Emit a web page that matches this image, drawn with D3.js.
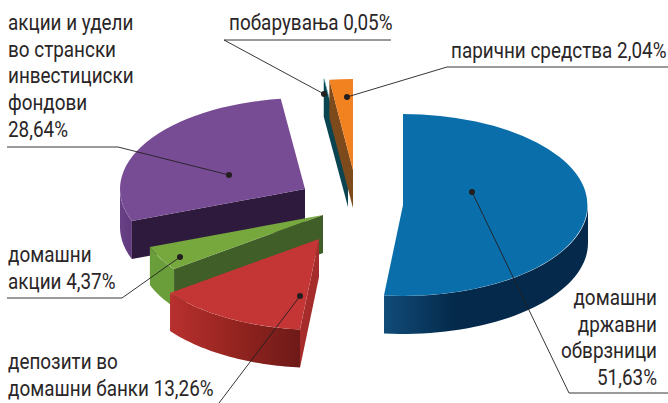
<!DOCTYPE html>
<html>
<head>
<meta charset="utf-8">
<script src="https://cdn.jsdelivr.net/npm/d3@7"></script>
<style>
  html, body { margin: 0; background: #fff; }
  text { font-family: Roboto, "Noto Sans", sans-serif; font-size: 22.5px; fill: #2a2627; }
</style>
</head>
<body>
<svg id="chart" width="668" height="403"></svg>
<script>
"use strict";

// данные, по часовой стрелке от верха
var aCategories = ["домашни државни обврзници", "депозити во домашни банки", "домашни акции",
    "акции и удели во странски инвестициски фондови", "побарувања", "парични средства"];
var aValues = [51.63, 13.26, 4.37, 28.64, 0.05, 2.04];

var aLabels = [
    ["домашни", "државни", "обврзници", "51,63%"],
    ["депозити во", "домашни банки 13,26%"],
    ["домашни", "акции 4,37%"],
    ["акции и удели", "во странски", "инвестициски", "фондови", "28,64%"],
    ["побарувања 0,05%"],
    ["парични средства 2,04%"]
];

// оформление
var aTopColors = ["#0a6eab", "#c43535", "#76a83e", "#784c94", "#127f8e", "#f28120"];
var aSideColors = ["#0a6eab", "#a52c2a", "#3f5e28", "#2d1a3c", "#0a4451", "#7d4a1c"];
var aWallStops = [
    [[0, "#114c79"], [0.35, "#04294a"], [1, "#04294a"]],
    [[0, "#b8302f"], [0.5, "#94241f"], [1, "#6e1a18"]],
    [[0, "#6a9e3a"], [1, "#6a9e3a"]],
    [[0, "#6a4187"], [1, "#5f3a7c"]],
    [[0, "#0a4451"], [1, "#0a4451"]],
    [[0, "#7d4a1c"], [1, "#7d4a1c"]]
];
var aApex = [[403, 205], [319, 239], [323, 215], [305, 189], [348, 169], [353, 170]];
var aDrawOrder = [3, 2, 1, 4, 5, 0];
var iRx = 185, iRy = 91, iDepth = 38;
var fTextScale = 0.84;

var aLabelPos = [
    { x: 657, y: 305, anchor: "end" },
    { x: 8, y: 369, anchor: "start" },
    { x: 8, y: 262, anchor: "start" },
    { x: 8, y: 30, anchor: "start" },
    { x: 229, y: 30, anchor: "start" },
    { x: 451, y: 58, anchor: "start" }
];
var iLineStep = 26.7;
var aLeaders = [
    [[472, 192], [569, 393], [668, 393]],
    [[300, 296], [219, 403]],
    [[180, 257], [122, 298], [7, 298]],
    [[229, 175], [118, 147], [7, 147]],
    [[324, 94], [224, 40], [391, 40]],
    [[347, 97], [447, 67], [668, 67]]
];

var svg = d3.select("#chart");
var defs = svg.append("defs");

var aPie = d3.pie().sort(null).value(e => e)(aValues);

// проекция окружности на наклонную плоскость
var xScale = d3.scaleLinear().domain([-1, 1]).range([-iRx, iRx]);
var yScale = d3.scaleLinear().domain([-1, 1]).range([-iRy, iRy]);
var project = a => [xScale(Math.sin(a)), yScale(-Math.cos(a))];

var arc = d3.arc().innerRadius(0).outerRadius(1);
var line = d3.line();

aValues.forEach(function(v, i) {
    var grad = defs.append("linearGradient").attr("id", "wall" + i);
    aWallStops[i].forEach(function(s) {
        grad.append("stop").attr("offset", s[0]).attr("stop-color", s[1]);
    });
});

aDrawOrder.forEach(function(i) {
    var d = aPie[i];
    var g = svg.append("g").attr("transform", `translate(${aApex[i][0]}, ${aApex[i][1]})`);

    // внешняя стенка, видна только нижняя половина эллипса
    var fFrom = Math.max(d.startAngle, Math.PI / 2);
    var fTo = Math.min(d.endAngle, Math.PI * 3 / 2);
    if (fTo > fFrom) {
        var aAngles = d3.range(0, 41).map(k => fFrom + (fTo - fFrom) * k / 40);
        var aTop = aAngles.map(project);
        var aBottom = aTop.map(p => [p[0], p[1] + iDepth]).reverse();
        g.append("path")
            .attr("d", line(aTop.concat(aBottom)) + "Z")
            .attr("fill", `url(#wall${i})`);
    }

    // боковая стенка у начального угла
    var p0 = project(d.startAngle);
    g.append("path")
        .attr("d", line([[0, 0], p0, [p0[0], p0[1] + iDepth], [0, iDepth]]) + "Z")
        .attr("fill", aSideColors[i]);

    // верхняя грань
    g.append("path")
        .attr("transform", `scale(${iRx}, ${iRy})`)
        .attr("d", arc(d))
        .attr("fill", aTopColors[i]);
});

// выноски
aLeaders.forEach(function(a) {
    svg.append("path")
        .attr("d", line(a))
        .attr("fill", "none")
        .attr("stroke", "#231f20")
        .attr("stroke-width", 0.9);
    svg.append("circle")
        .attr("cx", a[0][0])
        .attr("cy", a[0][1])
        .attr("r", 3)
        .attr("fill", "#231f20");
});

// подписи, шрифт сжат по ширине
aLabels.forEach(function(aLines, i) {
    var p = aLabelPos[i];
    var t = svg.append("text")
        .attr("text-anchor", p.anchor)
        .attr("transform", `translate(${p.x}, ${p.y}) scale(${fTextScale}, 1)`);
    aLines.forEach(function(s, k) {
        t.append("tspan").attr("x", 0).attr("y", k * iLineStep).text(s);
    });
});
</script>
</body>
</html>
